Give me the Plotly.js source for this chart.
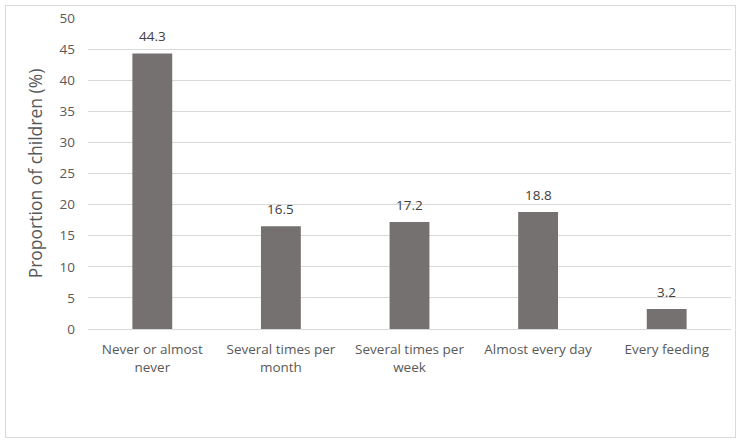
<!DOCTYPE html>
<html>
<head>
<meta charset="utf-8">
<script src="https://cdn.plot.ly/plotly-3.0.1.min.js"></script>
<style>
  body { margin: 0; background: #fff; }
  #wrap { position: relative; width: 741px; height: 443px; }
  #chart { width: 741px; height: 443px; }
  #frame { position: absolute; left: 5px; top: 5px; width: 729px; height: 431px;
           border: 1px solid #d9d9d9; pointer-events: none; }
</style>
</head>
<body>
<div id="wrap">
  <div id="chart"></div>
  <div id="frame"></div>
</div>
<script>
// categories and values
var categories = [
  "Never or almost<br>never",
  "Several times per<br>month",
  "Several times per<br>week",
  "Almost every day",
  "Every feeding"
];
var proportions = [44.3, 16.5, 17.2, 18.8, 3.2];
var yTicks = [0, 5, 10, 15, 20, 25, 30, 35, 40, 45, 50];

var trace = {
  x: categories,
  y: proportions,
  type: "bar",
  marker: { color: "#767171" },
  hoverinfo: "none"
};

// value labels above the bars
var labels = categories.map((c, i) => ({
  x: c,
  y: proportions[i],
  text: proportions[i].toFixed(1),
  showarrow: false,
  yanchor: "bottom",
  yshift: 6,
  font: { family: "Open Sans, sans-serif", size: 13.5, color: "#404040" }
}));

var layout = {
  width: 741,
  height: 443,
  margin: { l: 88, r: 10, t: 18, b: 114 },
  paper_bgcolor: "rgba(0,0,0,0)",
  plot_bgcolor: "#fff",
  bargap: 0.69,
  showlegend: false,
  font: { family: "Open Sans, sans-serif", color: "#595959" },
  annotations: labels,
  xaxis: {
    tickfont: { size: 13.5, color: "#595959" },
    showline: true,
    linecolor: "#d9d9d9",
    linewidth: 1,
    ticks: "",
    ticklabelstandoff: 8
  },
  yaxis: {
    range: [0, 50],
    tickvals: yTicks,
    tickfont: { size: 13.5, color: "#595959" },
    gridcolor: "#d9d9d9",
    zeroline: false,
    ticks: "",
    ticklabelstandoff: 12,
    title: { text: "Proportion of children (%)", font: { size: 17.5, color: "#595959" }, standoff: 12 }
  }
};

Plotly.newPlot("chart", [trace], layout, { displayModeBar: false, staticPlot: true });
</script>
</body>
</html>
